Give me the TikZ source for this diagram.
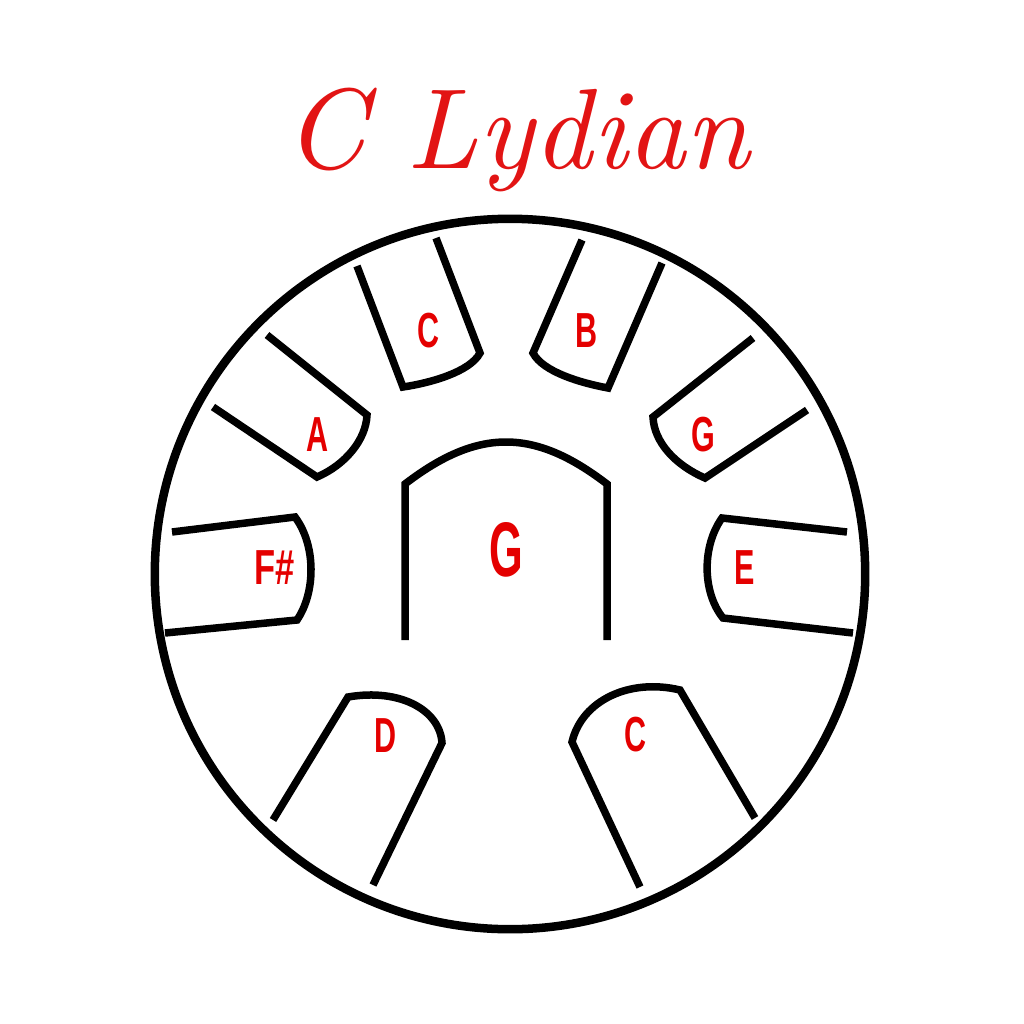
\documentclass[tikz,border=0pt]{standalone}
\usepackage{fontspec}
\newfontfamily\labelfont{Liberation Sans}
\definecolor{notered}{RGB}{228,0,0}
\definecolor{titlered}{RGB}{226,20,20}
\tikzset{
  rim/.style={line width=0.085cm, draw=black},
  tongue/.style={line width=0.075cm, draw=black, line join=miter},
  notelbl/.style={inner sep=0pt, text=notered, font=\labelfont\bfseries\fontsize{14pt}{14pt}\selectfont},
  biglbl/.style={inner sep=0pt, text=notered, font=\labelfont\bfseries\fontsize{22pt}{22pt}\selectfont},
  titlelbl/.style={inner sep=0pt, text=titlered, font=\rmfamily\itshape}
}
\begin{document}
\begin{tikzpicture}[x=0.01cm,y=-0.01cm]
\useasboundingbox (0,0) rectangle (1024,1024);
% rim
\draw[rim] (510,574) circle[radius=3.55cm];
% tongues
\draw[tongue] (357,266) -- (403,387) .. controls (430,383) and (470,372) .. (480,353) -- (436,238);
\draw[tongue] (582,240) -- (533,353) .. controls (543,372) and (581,383) .. (608,388) -- (662,263);
\draw[tongue] (267,335) -- (367,415) .. controls (366,440) and (345,465) .. (317,477) -- (213,407);
\draw[tongue] (172,532) -- (295,517) .. controls (316,545) and (316,592) .. (297,620) -- (165,633);
\draw[tongue] (753,338) -- (653,417) .. controls (654,442) and (675,465) .. (705,478) -- (807,410);
\draw[tongue] (847,532) -- (722,518) .. controls (702,546) and (702,592) .. (723,618) -- (853,633);
\draw[tongue] (273,820) -- (348,697) .. controls (400,688) and (440,710) .. (442,743) -- (373,885);
\draw[tongue] (755,818) -- (680,690) .. controls (630,678) and (582,700) .. (572,742) -- (640,887);
\draw[tongue] (405,640) -- (405,484) .. controls (478,428) and (534,428) .. (607,484) -- (607,640);
% labels
\node[notelbl] (nCtop) at (429,331) {\scalebox{0.62}[1]{C}};
\node[notelbl] (nB) at (587,331) {\scalebox{0.62}[1]{B}};
\node[notelbl] (nA) at (318,435) {\scalebox{0.62}[1]{A}};
\node[notelbl] (nFs) at (275,568) {\scalebox{0.7}[1]{F\#}};
\node[notelbl] (nGr) at (703,435) {\scalebox{0.62}[1]{G}};
\node[notelbl] (nE) at (745,568) {\scalebox{0.62}[1]{E}};
\node[notelbl] (nD) at (386,736) {\scalebox{0.62}[1]{D}};
\node[notelbl] (nCbot) at (636,735) {\scalebox{0.62}[1]{C}};
\node[biglbl] (nGc) at (506,550) {\scalebox{0.56}[1]{G}};
% title
\node[titlelbl] (title) at (517,140) {\resizebox{4.65cm}{!}{C Lydian}};
\end{tikzpicture}
\end{document}
